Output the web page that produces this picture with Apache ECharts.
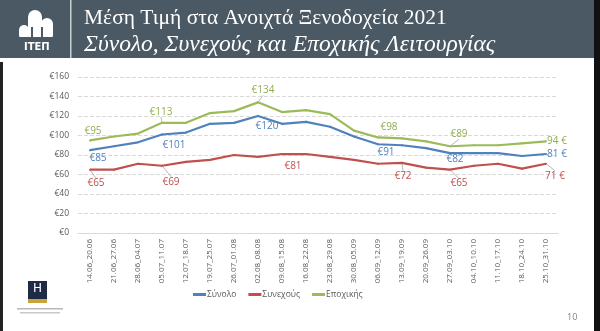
<!DOCTYPE html>
<html>
<head>
<meta charset="utf-8">
<script src="https://cdn.jsdelivr.net/npm/echarts@6/dist/echarts.min.js"></script>
<style>
html,body{margin:0;padding:0;background:#fff;}
#c{width:600px;height:331px;}
</style>
</head>
<body>
<div id="c"></div>
<script>
const titleText = 'Μέση Τιμή στα Ανοιχτά Ξενοδοχεία 2021';
const subtitleText = 'Σύνολο, Συνεχούς και Εποχικής Λειτουργίας';
const categories = ['14.06_20.06','21.06_27.06','28.06_04.07','05.07_11.07','12.07_18.07','19.07_25.07','26.07_01.08','02.08_08.08','09.08_15.08','16.08_22.08','23.08_29.08','30.08_05.09','06.09_12.09','13.09_19.09','20.09_26.09','27.09_03.10','04.10_10.10','11.10_17.10','18.10_24.10','25.10_31.10'];
const seriesNames = ['Σύνολο','Συνεχούς','Εποχικής'];
const totalValues    = [85, 89, 93, 101, 103, 112, 113, 120, 112, 114, 109, 99, 91, 90, 87, 82, 82, 82, 79, 81];
const continuousValues = [65, 65, 71, 69, 73, 75, 80, 78, 81, 81, 78, 75, 71, 72, 67, 65, 69, 71, 66, 71];
const seasonalValues = [95, 99, 102, 113, 113, 123, 125, 134, 124, 126, 122, 105, 98, 97, 94, 89, 90, 90, 92, 94];
const yTicks = [0, 20, 40, 60, 80, 100, 120, 140, 160];
const pageNumber = '10';

const colors = ['#4F81BD', '#C0504D', '#9BBB59'];
const labelColors = ['#4F81BD', '#C0504D', '#8FAE4F'];

// label centre offset from the point, in px; third item: draw a leader line
const totalLabels = {0:[8,8],3:[12,11],7:[9,10],12:[8,8],15:[5,6],19:[11,0]};
const contLabels  = {0:[6,14,1],3:[9,16,1],9:[-13,12],13:[1,13,1],15:[9,14,1],19:[9,12,1]};
const seasLabels  = {0:[3,-9],3:[-1,-11,1],7:[5,-12,1],12:[11,-10],15:[9,-12,1],19:[11,0]};

const SYM = 2;
function buildData(values, labels, color){
  return values.map((v,i)=>{
    const l = labels[i];
    if(!l) return {value:v};
    const last = i === values.length-1;
    const txt = last ? (v+' €') : ('€'+v);
    return {value:v, label:{show:true, position:[SYM/2 + l[0], SYM/2 + l[1]], align:'center', verticalAlign:'middle',
      color:color, fontSize:10, fontFamily:'Open Sans, Noto Sans, sans-serif', formatter: txt},
      labelLine:{show: !!l[2], lineStyle:{color:'#a6a6a6', width:0.8}}};
  });
}

function makeSeries(idx, values, labels){
  return {name:seriesNames[idx], type:'line', data:buildData(values,labels,labelColors[idx]),
    symbol:'circle', symbolSize:SYM, showSymbol:true, showAllSymbol:true,
    itemStyle:{color:colors[idx]},
    label:{show:false},
    labelLine:{show:false, smooth:false, length2:0},
    lineStyle:{width:2.2, color:colors[idx]},
    labelLayout:{hideOverlap:false},
    z:[3,2,4][idx]};
}

const chart = echarts.init(document.getElementById('c'), null, {renderer:'canvas'});
const option = {
  animation:false,
  backgroundColor:'#ffffff',
  color: colors,
  grid:{left:78, right:42, top:77, bottom:98, containLabel:false},
  legend:{
    data: seriesNames, bottom: 27, left:188, itemWidth:13, itemHeight:3, itemGap:12,
    icon:'rect',
    textStyle:{color:'#595959', fontSize:8.5, fontFamily:'Open Sans, Noto Sans, sans-serif', padding:[0,0,0,-4]}
  },
  xAxis:{
    type:'category', data:categories, boundaryGap:true,
    axisLine:{show:true, lineStyle:{color:'#d9d9d9', width:1}},
    axisTick:{show:false},
    axisLabel:{rotate:90, interval:0, fontSize:8, color:'#595959', margin:6, fontFamily:'Open Sans, Noto Sans, sans-serif'}
  },
  yAxis:{
    type:'value', min:0, max:160, interval:20,
    axisLine:{show:false}, axisTick:{show:false},
    axisLabel:{formatter:(v)=>'€'+v, fontSize:8.5, color:'#595959', margin:9, fontFamily:'Open Sans, Noto Sans, sans-serif'},
    splitLine:{show:true, lineStyle:{color:'#d9d9d9', type:'dashed', width:1}}
  },
  series:[
    makeSeries(0, totalValues, totalLabels),
    makeSeries(1, continuousValues, contLabels),
    makeSeries(2, seasonalValues, seasLabels)
  ],
  graphic:[
    {type:'rect', left:0, top:0, shape:{width:600, height:58}, style:{fill:'#4a5964'}, z:-1},
    {type:'rect', left:70, top:0, shape:{width:1.5, height:58}, style:{fill:'#c9d0d4'}},
    {type:'rect', left:594, top:0, shape:{width:6, height:331}, style:{fill:'#111'}},
    {type:'rect', left:0, top:62, shape:{width:3, height:269}, style:{fill:'#222'}},
    {type:'rect', left:19, top:25, shape:{width:10, height:12, r:[5,5,1,1]}, style:{fill:'#ffffff'}},
    {type:'rect', left:28, top:10, shape:{width:14, height:27, r:[7,7,1,1]}, style:{fill:'#ffffff'}},
    {type:'rect', left:41, top:18, shape:{width:12, height:19, r:[6,6,1,1]}, style:{fill:'#ffffff'}},
    {type:'rect', left:31, top:27, shape:{width:2, height:10}, style:{fill:'#4a5964'}},
    {type:'rect', left:41, top:27, shape:{width:2, height:10}, style:{fill:'#4a5964'}},
    {type:'text', left:24, top:42, style:{text:'ΙΤΕΠ', fill:'#ffffff', font:'bold 10px "DejaVu Sans", sans-serif'}},
    {type:'text', left:84, top:7, style:{text:titleText, fill:'#ffffff', font:'21.5px "Liberation Serif", serif'}},
    {type:'text', left:84, top:33, style:{text:subtitleText, fill:'#ffffff', font:'italic 23.5px "Liberation Serif", serif'}},
    {type:'rect', left:28, top:281, shape:{width:19, height:18}, style:{fill:'#1f2b45'}},
    {type:'rect', left:28, top:299, shape:{width:19, height:4}, style:{fill:'#c9a43a'}},
    {type:'text', left:33, top:283, style:{text:'H', fill:'#ffffff', font:'12px "DejaVu Sans", sans-serif'}},
    {type:'rect', left:17, top:308, shape:{width:46, height:1.5}, style:{fill:'#b8b8b8'}},
    {type:'rect', left:20, top:312, shape:{width:40, height:1.5}, style:{fill:'#c8c8c8'}},
    {type:'text', left:567, top:313, style:{text:pageNumber, fill:'#7f7f7f', font:'9px "Open Sans", sans-serif'}}
  ]
};
chart.setOption(option);
</script>
</body>
</html>
